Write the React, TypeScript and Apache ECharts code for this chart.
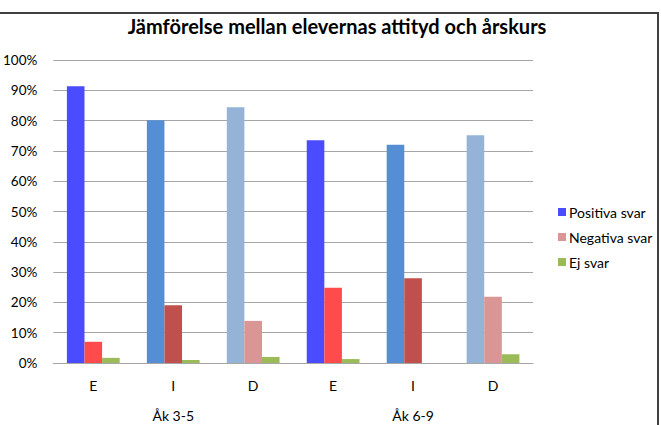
import React, { useEffect, useRef } from "react";
import * as echarts from "echarts";

const categories = ["E", "I", "D", "E", "I", "D"];
const groups = ["Åk 3-5", "Åk 6-9"];
const seriesNames = ["Positiva svar", "Negativa svar", "Ej svar"];
const positiva = [91.3, 80.1, 84.4, 73.5, 72.0, 75.2];
const negativa = [7.0, 19.1, 13.9, 24.8, 28.0, 21.9];
const ejSvar = [1.7, 1.0, 2.0, 1.3, 0, 2.9];
const yTicks = [0, 10, 20, 30, 40, 50, 60, 70, 80, 90, 100];

const positivaColors = ["#4B4BFF", "#558ED5", "#95B3D7", "#4B4BFF", "#558ED5", "#95B3D7"];
const negativaColors = ["#FF4B4B", "#C0504D", "#D99694", "#FF4B4B", "#C0504D", "#D99694"];
const ejColors = ["#9BBB59", "#9BBB59", "#9BBB59", "#9BBB59", "#9BBB59", "#9BBB59"];
const legendColors = ["#4B4BFF", "#D99694", "#9BBB59"];

const FONT = "Lato, 'Open Sans', sans-serif";

export default function App() {
  const ref = useRef<HTMLDivElement>(null);
  useEffect(() => {
    if (!ref.current) return;
    const chart = echarts.init(ref.current, null, { renderer: "svg" });
    const mk = (vals: number[], cols: string[]) =>
      vals.map((v, i) => ({ value: v, itemStyle: { color: cols[i] } }));
    const values = [positiva, negativa, ejSvar];
    const colors = [positivaColors, negativaColors, ejColors];
    chart.setOption({
      animation: false,
      textStyle: { fontFamily: FONT },
      title: {
        text: "Jämförelse mellan elevernas attityd och årskurs",
        left: 332,
        top: 11,
        textAlign: "center",
        textStyle: { fontFamily: FONT, fontSize: 20, fontWeight: "bold", color: "#000" },
      },
      legend: {
        orient: "vertical",
        left: 553,
        top: 200,
        itemWidth: 8,
        itemHeight: 8,
        itemGap: 11,
        icon: "rect",
        textStyle: { fontFamily: FONT, fontSize: 14, color: "#000", padding: [0, 0, 0, -2] },
        data: seriesNames.map((n, i) => ({ name: n, itemStyle: { color: legendColors[i] } })),
      },
      grid: { left: 53, right: 128, top: 60, bottom: 62 },
      xAxis: [
        {
          type: "category",
          data: categories,
          axisLine: { lineStyle: { color: "#A6A6A6", width: 1 } },
          axisTick: { show: false },
          axisLabel: { fontFamily: FONT, fontSize: 14, color: "#000", margin: 15 },
        },
        {
          type: "category",
          data: groups,
          position: "bottom",
          axisLine: { show: false },
          axisTick: { show: false },
          axisLabel: { fontFamily: FONT, fontSize: 14, color: "#000", margin: 45 },
        },
      ],
      yAxis: {
        type: "value",
        min: yTicks[0],
        max: yTicks[yTicks.length - 1],
        interval: 10,
        axisLine: { show: false },
        axisTick: { show: false },
        splitLine: { lineStyle: { color: "#A6A6A6", width: 1 } },
        axisLabel: { fontFamily: FONT, fontSize: 13.5, color: "#000", margin: 16, formatter: "{value}%" },
      },
      series: seriesNames.map((n, si) => ({
        name: n,
        type: "bar",
        xAxisIndex: 0,
        barGap: "0%",
        barCategoryGap: "34%",
        itemStyle: { color: legendColors[si] },
        data: mk(values[si], colors[si]),
      })),
      graphic: [
        { type: "line", shape: { x1: 0, y1: 13, x2: 658, y2: 13 }, style: { stroke: "#404040", lineWidth: 2 } },
        { type: "line", shape: { x1: 658, y1: 12, x2: 658, y2: 425 }, style: { stroke: "#404040", lineWidth: 2 } },
      ],
    });
    return () => chart.dispose();
  }, []);
  return (
    <div
      ref={ref}
      style={{ position: "absolute", left: 0, top: 0, width: 661, height: 425, background: "#fff" }}
    />
  );
}
